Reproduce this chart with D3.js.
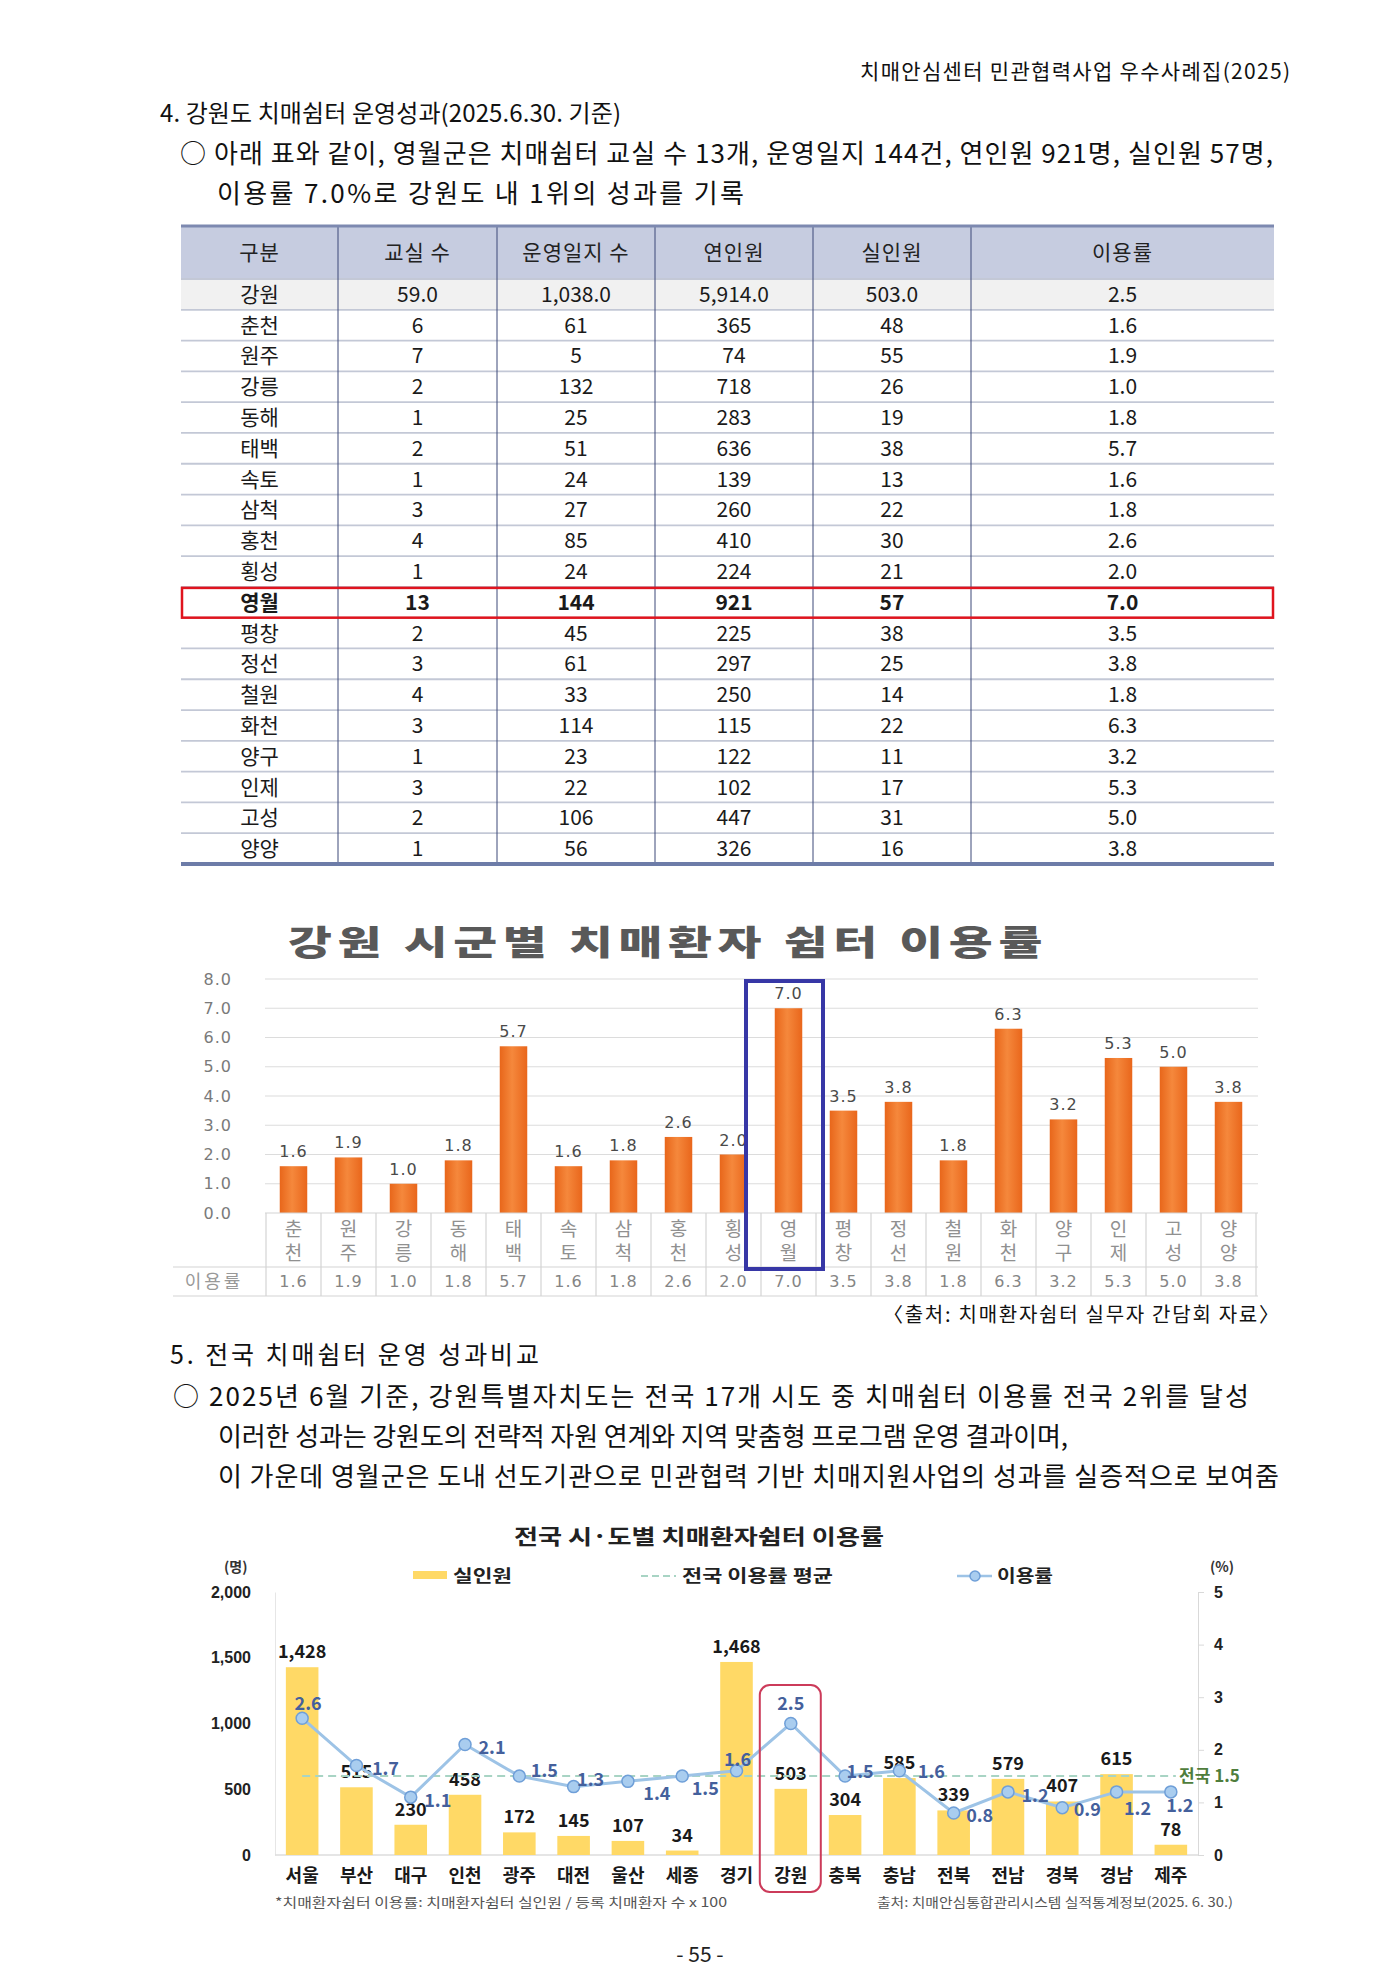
<!DOCTYPE html>
<html>
<head>
<meta charset="utf-8">
<script src="https://cdn.jsdelivr.net/npm/d3@7"></script>
<style>
  body { margin: 0; background: #fff; }
  svg { display: block; font-family: "Noto Sans CJK KR", "Noto Sans", sans-serif; }
</style>
</head>
<body>
<svg id="page" width="1400" height="1980"></svg>
<script>
// table data (강원도 치매쉼터 운영성과)
const tableHead = ["구분", "교실 수", "운영일지 수", "연인원", "실인원", "이용률"];
const regions = ["강원", "춘천", "원주", "강릉", "동해", "태백", "속토", "삼척", "홍천", "횡성",
  "영월", "평창", "정선", "철원", "화천", "양구", "인제", "고성", "양양"];
const classrooms = [59, 6, 7, 2, 1, 2, 1, 3, 4, 1, 13, 2, 3, 4, 3, 1, 3, 2, 1];
const logs = [1038, 61, 5, 132, 25, 51, 24, 27, 85, 24, 144, 45, 61, 33, 114, 23, 22, 106, 56];
const visits = [5914, 365, 74, 718, 283, 636, 139, 260, 410, 224, 921, 225, 297, 250, 115, 122, 102, 447, 326];
const people = [503, 48, 55, 26, 19, 38, 13, 22, 30, 21, 57, 38, 25, 14, 22, 11, 17, 31, 16];
const rates = [2.5, 1.6, 1.9, 1.0, 1.8, 5.7, 1.6, 1.8, 2.6, 2.0, 7.0, 3.5, 3.8, 1.8, 6.3, 3.2, 5.3, 5.0, 3.8];
const highlight = "영월";

// national chart data
const provinces = ["서울", "부산", "대구", "인천", "광주", "대전", "울산", "세종", "경기",
  "강원", "충북", "충남", "전북", "전남", "경북", "경남", "제주"];
const provPeople = [1428, 515, 230, 458, 172, 145, 107, 34, 1468, 503, 304, 585, 339, 579, 407, 615, 78];
const provRates = [2.6, 1.7, 1.1, 2.1, 1.5, 1.3, 1.4, 1.5, 1.6, 2.5, 1.5, 1.6, 0.8, 1.2, 0.9, 1.2, 1.2];
const nationalAvg = 1.5;
const leftTicks = [0, 500, 1000, 1500, 2000];
const rightTicks = [0, 1, 2, 3, 4, 5];

// label nudges for the rate line (layout only)
const rateLabelNudge = [[6, -16], [29, 1], [27, 2], [27, 1], [25, -7], [17, -9], [29, 11], [23, 11],
  [1, -13], [0, -22], [15, -6], [32, -1], [26, 1], [27, 2], [25, 0], [21, 15], [9, 12]];

const svg = d3.select("#page");
svg.append("rect").attr("width", 1400).attr("height", 1980).attr("fill", "#fff");

function txt(x, y, s, size, opts = {}) {
  let t = svg.append("text")
    .attr("x", x).attr("y", y)
    .attr("font-size", size)
    .attr("fill", opts.fill || "#111")
    .attr("font-weight", opts.weight || 400)
    .attr("text-anchor", opts.anchor || "start")
    .text(s);
  if (opts.len) t.attr("textLength", opts.len).attr("lengthAdjust", opts.adjust || "spacing");
  if (opts.family) t.attr("font-family", opts.family);
  if (opts.ls) t.attr("letter-spacing", opts.ls);
  return t;
}

// ---- page text ----
txt(1290, 79, "치매안심센터 민관협력사업 우수사례집(2025)", 21, {anchor: "end", len: 430});
txt(160, 122, "4. 강원도 치매쉼터 운영성과(2025.6.30. 기준)", 24, {len: 461});
txt(180, 163, "○ 아래 표와 같이, 영월군은 치매쉼터 교실 수 13개, 운영일지 144건, 연인원 921명, 실인원 57명,", 26, {len: 1093});
txt(217, 203, "이용률 7.0%로 강원도 내 1위의 성과를 기록", 26, {len: 527});

// ---- table ----
const colEdges = [181, 338, 497, 655, 813, 971, 1274];
const rowY = d3.scaleBand().domain(regions).range([279, 864]);
const colMid = i => (colEdges[i] + colEdges[i + 1]) / 2;

svg.append("rect").attr("x", 181).attr("y", 226).attr("width", 1093).attr("height", 53).attr("fill", "#c6cce0");
svg.append("rect").attr("x", 181).attr("y", rowY("강원")).attr("width", 1093).attr("height", rowY.bandwidth()).attr("fill", "#f1f1f1");

svg.append("g").selectAll("line").data(regions).enter().append("line")
  .attr("x1", 181).attr("x2", 1274)
  .attr("y1", d => rowY(d)).attr("y2", d => rowY(d))
  .attr("stroke", "#c3c8d6").attr("stroke-width", 1.8);

svg.append("g").selectAll("line").data(colEdges.slice(1, -1)).enter().append("line")
  .attr("x1", d => d).attr("x2", d => d).attr("y1", 227).attr("y2", 863)
  .attr("stroke", "#3d4878").attr("stroke-width", 1);

svg.append("line").attr("x1", 181).attr("x2", 1274).attr("y1", 226).attr("y2", 226)
  .attr("stroke", "#7d89b0").attr("stroke-width", 3);
svg.append("line").attr("x1", 181).attr("x2", 1274).attr("y1", 864).attr("y2", 864)
  .attr("stroke", "#6d7ca8").attr("stroke-width", 4);

tableHead.forEach((h, i) => txt(colMid(i), 260, h, 21, {anchor: "middle", fill: "#222", ls: 1}));

const f1 = d3.format(",.1f"), fi = d3.format(",d");
regions.forEach((r, k) => {
  const y = rowY(r) + rowY.bandwidth() / 2 + 7.5;
  const fmt = k === 0 ? f1 : fi;
  const vals = [r, fmt(classrooms[k]), fmt(logs[k]), fmt(visits[k]), fmt(people[k]), d3.format(".1f")(rates[k])];
  const w = r === highlight ? 700 : 400;
  vals.forEach((v, i) => txt(colMid(i), y, v, 21, {anchor: "middle", fill: "#1a1a1a", weight: w}));
});
svg.append("rect").attr("x", 182).attr("y", rowY(highlight) + 1).attr("width", 1091).attr("height", rowY.bandwidth() - 1)
  .attr("fill", "none").attr("stroke", "#e0141e").attr("stroke-width", 2.5);

// ---- chart 1: 강원 시군별 ----
const cats1 = regions.slice(1), vals1 = rates.slice(1);
const x1 = d3.scaleBand().domain(cats1).range([266, 1256]);
const y1 = d3.scaleLinear().domain([0, 8]).range([1213, 979]);

// title: wide heavy face, stretched glyphs rather than gaps
txt(288, 955, "강원 시군별 치매환자 쉼터 이용률", 34, {weight: 900, fill: "#595959", len: 760, adjust: "spacingAndGlyphs", ls: 4});

const defs = svg.append("defs");
const grad = defs.append("linearGradient").attr("id", "og").attr("x1", 0).attr("x2", 1).attr("y1", 0).attr("y2", 0);
grad.append("stop").attr("offset", "0%").attr("stop-color", "#e8661a");
grad.append("stop").attr("offset", "45%").attr("stop-color", "#f5883c");
grad.append("stop").attr("offset", "100%").attr("stop-color", "#e9661b");

svg.append("g").selectAll("line").data(d3.range(1, 9)).enter().append("line")
  .attr("x1", 265).attr("x2", 1258).attr("y1", d => y1(d)).attr("y2", d => y1(d))
  .attr("stroke", "#dcdcdc").attr("stroke-width", 1.2);

const ax1 = svg.append("g").attr("transform", "translate(266,0)")
  .call(d3.axisLeft(y1).tickValues(d3.range(0, 9)).tickFormat(d3.format(".1f")).tickSize(0).tickPadding(34));
ax1.select(".domain").remove();
ax1.selectAll("text").attr("font-size", 16).attr("fill", "#7a7a7a")
  .attr("font-family", "DejaVu Sans").attr("letter-spacing", 1);

const bw1 = x1.bandwidth() * 0.5;
svg.append("g").selectAll("rect").data(cats1).enter().append("rect")
  .attr("x", d => x1(d) + (x1.bandwidth() - bw1) / 2)
  .attr("y", (d, i) => y1(vals1[i]))
  .attr("width", bw1)
  .attr("height", (d, i) => y1(0) - y1(vals1[i]))
  .attr("fill", "url(#og)");

svg.append("g").selectAll("text").data(cats1).enter().append("text")
  .attr("x", d => x1(d) + x1.bandwidth() / 2)
  .attr("y", (d, i) => y1(vals1[i]) - 9)
  .attr("text-anchor", "middle").attr("font-size", 16).attr("fill", "#4a4a4a")
  .attr("font-family", "DejaVu Sans").attr("letter-spacing", 1)
  .text((d, i) => d3.format(".1f")(vals1[i]));

// category table under chart 1
const edges1 = cats1.map(d => x1(d)).concat([x1.range()[1]]);
svg.append("g").selectAll("line").data(edges1).enter().append("line")
  .attr("x1", d => d).attr("x2", d => d).attr("y1", 1213).attr("y2", 1296)
  .attr("stroke", "#d4d4d4").attr("stroke-width", 1.2);
svg.append("line").attr("x1", 265).attr("x2", 1258).attr("y1", 1213).attr("y2", 1213)
  .attr("stroke", "#d4d4d4").attr("stroke-width", 1.2);
[1267, 1296].forEach(y => svg.append("line").attr("x1", 173).attr("x2", 1258).attr("y1", y).attr("y2", y)
  .attr("stroke", "#d4d4d4").attr("stroke-width", 1.2));

cats1.forEach((c, i) => {
  const cx = x1(c) + x1.bandwidth() / 2;
  txt(cx, 1236, c[0], 19, {anchor: "middle", fill: "#909090"});
  txt(cx, 1260, c[1], 19, {anchor: "middle", fill: "#909090"});
  txt(cx, 1287, d3.format(".1f")(vals1[i]), 16, {anchor: "middle", fill: "#858585", family: "DejaVu Sans", ls: 1});
});
txt(214, 1288, "이용률", 18, {anchor: "middle", fill: "#999", ls: 3});

svg.append("rect").attr("x", x1(highlight) - 15).attr("y", 981)
  .attr("width", x1.bandwidth() + 22).attr("height", 288)
  .attr("fill", "none").attr("stroke", "#3737a6").attr("stroke-width", 4);

txt(1279, 1322, "〈출처: 치매환자쉼터 실무자 간담회 자료〉", 20, {anchor: "end", len: 396});

// ---- section 5 text ----
txt(170, 1364, "5. 전국 치매쉼터 운영 성과비교", 25, {len: 369});
txt(173, 1406, "○ 2025년 6월 기준, 강원특별자치도는 전국 17개 시도 중 치매쉼터 이용률 전국 2위를 달성", 26, {len: 1076});
txt(218, 1446, "이러한 성과는 강원도의 전략적 자원 연계와 지역 맞춤형 프로그램 운영 결과이며,", 26, {len: 850});
txt(218, 1486, "이 가운데 영월군은 도내 선도기관으로 민관협력 기반 치매지원사업의 성과를 실증적으로 보여줌", 26, {len: 1061});

// ---- chart 2: 전국 시도별 ----
const x2 = d3.scaleBand().domain(provinces).range([275, 1198]);
const yL = d3.scaleLinear().domain([0, 2000]).range([1855, 1592]);
const yR = d3.scaleLinear().domain([0, 5]).range([1855, 1592]);
const cx2 = d => x2(d) + x2.bandwidth() / 2;

txt(514, 1544, "전국 시·도별 치매환자쉼터 이용률", 21, {weight: 700, fill: "#222", len: 370, adjust: "spacingAndGlyphs"});
txt(224, 1572, "(명)", 14, {weight: 700, fill: "#333"});
txt(1210, 1572, "(%)", 14, {weight: 700, fill: "#333"});

// legend
svg.append("rect").attr("x", 413).attr("y", 1571).attr("width", 34).attr("height", 8).attr("fill", "#ffd966");
txt(453, 1582, "실인원", 17, {weight: 700, fill: "#222", len: 59, adjust: "spacingAndGlyphs"});
svg.append("line").attr("x1", 641).attr("x2", 676).attr("y1", 1576).attr("y2", 1576)
  .attr("stroke", "#a8d4c4").attr("stroke-width", 2).attr("stroke-dasharray", "7,4");
txt(682, 1582, "전국 이용률 평균", 17, {weight: 700, fill: "#222", len: 151, adjust: "spacingAndGlyphs"});
svg.append("line").attr("x1", 957).attr("x2", 992).attr("y1", 1576).attr("y2", 1576)
  .attr("stroke", "#9dc3e6").attr("stroke-width", 2.5);
svg.append("circle").attr("cx", 975).attr("cy", 1576).attr("r", 5).attr("fill", "#a9cdef").attr("stroke", "#6f9fd8").attr("stroke-width", 1.5);
txt(997, 1582, "이용률", 17, {weight: 700, fill: "#222", len: 56, adjust: "spacingAndGlyphs"});

// axes
const axL = svg.append("g").attr("transform", "translate(275,0)")
  .call(d3.axisLeft(yL).tickValues(leftTicks).tickFormat(d3.format(",d")).tickSize(0).tickPadding(24));
axL.select(".domain").attr("stroke", "#e6e6e6");
axL.selectAll("text").attr("font-size", 16).attr("font-weight", 700).attr("fill", "#222");

const axR = svg.append("g").attr("transform", "translate(1198,0)")
  .call(d3.axisRight(yR).tickValues(rightTicks).tickFormat(d3.format("d")).tickSize(6).tickPadding(10));
axR.select(".domain").attr("stroke", "#d9d9d9");
axR.selectAll(".tick line").attr("stroke", "#d9d9d9");
axR.selectAll("text").attr("font-size", 16).attr("font-weight", 700).attr("fill", "#222");

svg.append("line").attr("x1", 275).attr("x2", 1198).attr("y1", 1855).attr("y2", 1855)
  .attr("stroke", "#dcdcdc").attr("stroke-width", 1.5);

const bw2 = x2.bandwidth() * 0.6;
svg.append("g").selectAll("rect").data(provinces).enter().append("rect")
  .attr("x", d => cx2(d) - bw2 / 2)
  .attr("y", (d, i) => yL(provPeople[i]))
  .attr("width", bw2)
  .attr("height", (d, i) => yL(0) - yL(provPeople[i]))
  .attr("fill", "#ffd966");

svg.append("g").selectAll("text").data(provinces).enter().append("text")
  .attr("x", d => cx2(d))
  .attr("y", (d, i) => yL(provPeople[i]) - 9)
  .attr("text-anchor", "middle").attr("font-size", 18).attr("font-weight", 700).attr("fill", "#1a1a1a")
  .text((d, i) => d3.format(",d")(provPeople[i]));

// national average
svg.append("line").attr("x1", cx2("서울")).attr("x2", cx2("제주") + 5)
  .attr("y1", yR(nationalAvg)).attr("y2", yR(nationalAvg))
  .attr("stroke", "#a8d4c4").attr("stroke-width", 2).attr("stroke-dasharray", "8,5");
txt(1179, yR(nationalAvg) + 6, "전국 " + nationalAvg.toFixed(1), 17, {weight: 700, fill: "#4f7d3c"});

// rate line
const line = d3.line().x(d => cx2(d)).y((d, i) => yR(provRates[i]));
svg.append("path").datum(provinces).attr("d", line)
  .attr("fill", "none").attr("stroke", "#9dc3e6").attr("stroke-width", 3);
svg.append("g").selectAll("circle").data(provinces).enter().append("circle")
  .attr("cx", d => cx2(d)).attr("cy", (d, i) => yR(provRates[i])).attr("r", 6)
  .attr("fill", "#a9cdef").attr("stroke", "#6f9fd8").attr("stroke-width", 1.5);
svg.append("g").selectAll("text").data(provinces).enter().append("text")
  .attr("x", (d, i) => cx2(d) + rateLabelNudge[i][0])
  .attr("y", (d, i) => yR(provRates[i]) + rateLabelNudge[i][1])
  .attr("dominant-baseline", "central")
  .attr("text-anchor", "middle").attr("font-size", 18).attr("font-weight", 700).attr("fill", "#44609c")
  .text((d, i) => provRates[i].toFixed(1));

// category labels
svg.append("g").selectAll("text").data(provinces).enter().append("text")
  .attr("x", d => cx2(d)).attr("y", 1882)
  .attr("text-anchor", "middle").attr("font-size", 18).attr("font-weight", 700).attr("fill", "#1a1a1a")
  .text(d => d);

// highlight 강원
svg.append("rect").attr("x", cx2("강원") - 31).attr("y", 1685).attr("width", 61).attr("height", 207)
  .attr("rx", 10).attr("fill", "none").attr("stroke", "#cc3b5a").attr("stroke-width", 2);

txt(275, 1907, "*치매환자쉼터 이용률: 치매환자쉼터 실인원 / 등록 치매환자 수 x 100", 13, {fill: "#555", len: 452, adjust: "spacingAndGlyphs"});
txt(877, 1907, "출처: 치매안심통합관리시스템 실적통계정보(2025. 6. 30.)", 13, {fill: "#555", len: 356, adjust: "spacingAndGlyphs"});

// page number
txt(700, 1962, "- 55 -", 21, {anchor: "middle", fill: "#222"});
</script>
</body>
</html>
